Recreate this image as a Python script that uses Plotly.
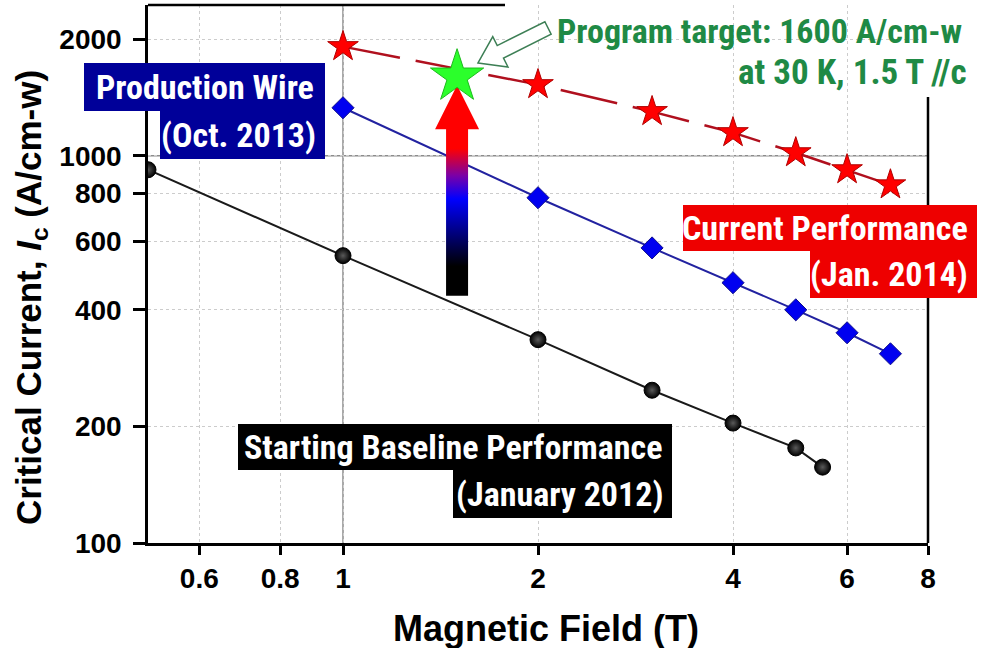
import math
import plotly.graph_objects as go

# ---------------- data ----------------
field_2012 = [0.5, 1, 2, 3, 4, 5, 5.5]
ic_2012 = [920, 552, 335, 248, 204, 176, 157]

field_2013 = [1, 2, 3, 4, 5, 6, 7]
ic_2013 = [1330, 779, 578, 470, 400, 349, 308]

field_2014 = [1, 2, 3, 4, 5, 6, 7]
ic_2014 = [1913, 1526, 1300, 1147, 1018, 920, 841]

target_field = [1.5]
target_ic = [1600]

# gradient arrow (progress arrow) extent in Ic units
arrow_ic = [435, 1170, 1520]  # bottom, head base, tip

x_tick_vals = [0.6, 0.8, 1, 2, 4, 6, 8]
x_tick_text = ["0.6", "0.8", "1", "2", "4", "6", "8"]
y_tick_vals = [100, 200, 400, 600, 800, 1000, 2000]
y_tick_text = ["100", "200", "400", "600", "800", "1000", "2000"]

X_RANGE = [0.5, 8]
Y_RANGE = [100, 2450]

# ---------------- layout geometry ----------------
W, H = 984, 648
ML, MR, MT, MB = 148, 56, 5, 105
PW = W - ML - MR
PH = H - MT - MB
PX_PER_DEC_X = PW / (math.log10(X_RANGE[1]) - math.log10(X_RANGE[0]))


def ppx(x):
    return (x - ML) / PW


def ppy(y):
    return (H - MB - y) / PH


NARROW = "Liberation Sans Narrow, Arial Narrow, Roboto Condensed, sans-serif"
SANS = "Liberation Sans, Arial, sans-serif"

fig = go.Figure()

fig.add_trace(go.Scatter(
    x=field_2012, y=ic_2012, mode="lines+markers",
    line=dict(color="#1a1a1a", width=2),
    marker=dict(symbol="circle", size=16, color="#000000",
                gradient=dict(type="radial", color="#5a5a5a"),
                line=dict(color="#000000", width=1)),
    showlegend=False, hoverinfo="x+y"))

fig.add_trace(go.Scatter(
    x=field_2013, y=ic_2013, mode="lines+markers",
    line=dict(color="#2222a0", width=2),
    marker=dict(symbol="diamond", size=17, color="#0000f0",
                line=dict(color="#10108a", width=1)),
    showlegend=False, hoverinfo="x+y"))

fig.add_trace(go.Scatter(
    x=field_2014, y=ic_2014, mode="lines+markers",
    line=dict(color="#b0101e", width=2.5, dash="58px,16px"),
    marker=dict(symbol="star", size=23, color="#ff0000",
                line=dict(color="#b00000", width=1)),
    showlegend=False, hoverinfo="x+y"))

# gradient arrow drawn from data anchor
xc = target_field[0]
fb = 10 ** (11 / PX_PER_DEC_X)
fh = 10 ** (22 / PX_PER_DEC_X)
yb, yh, yt = arrow_ic
fig.add_trace(go.Scatter(
    x=[xc / fb, xc / fb, xc / fh, xc, xc * fh, xc * fb, xc * fb, xc / fb],
    y=[yb, yh, yh, yt, yh, yh, yb, yb],
    mode="lines", line=dict(width=0, color="rgba(0,0,0,0)"),
    fill="toself",
    fillgradient=dict(type="vertical",
                      colorscale=[[0, "#000000"], [0.14, "#000000"],
                                  [0.46, "#0000ff"], [0.57, "#7a00a8"],
                                  [0.70, "#ff0000"], [1, "#ff0000"]]),
    showlegend=False, hoverinfo="skip"))

fig.add_trace(go.Scatter(
    x=target_field, y=target_ic, mode="markers",
    marker=dict(symbol="star", size=40, color="#2bff2b",
                line=dict(color="#1dbb1d", width=1)),
    showlegend=False, hoverinfo="x+y"))

# ---------------- shapes ----------------
shapes = []
# emphasised grid lines at 1 T and 1000 A/cm-w
shapes.append(dict(type="line", xref="x", yref="paper", x0=1, x1=1, y0=0, y1=1,
                   line=dict(color="#8c8c8c", width=1.5), layer="between"))
shapes.append(dict(type="line", xref="paper", yref="y", x0=0, x1=1, y0=1000, y1=1000,
                   line=dict(color="#8c8c8c", width=1.5), layer="between"))
# partial frame (top and right)
shapes.append(dict(type="line", xref="paper", yref="paper", x0=0, x1=ppx(505), y0=1, y1=1,
                   line=dict(color="#000000", width=2.5), layer="above"))
shapes.append(dict(type="line", xref="paper", yref="paper", x0=1, x1=1, y0=0, y1=ppy(97),
                   line=dict(color="#000000", width=2.5), layer="above"))

# label boxes (pixel extents)
boxes = [
    (84, 325, 63, 111, "#000099"),
    (160, 325, 111, 159, "#000099"),
    (683, 977, 205, 251, "#ee0000"),
    (810, 977, 251, 298, "#ee0000"),
    (238, 672, 424, 470, "#000000"),
    (453, 672, 470, 518, "#000000"),
]
for x0, x1, y0, y1, c in boxes:
    shapes.append(dict(type="rect", xref="paper", yref="paper",
                       x0=ppx(x0), x1=ppx(x1), y0=ppy(y1), y1=ppy(y0),
                       fillcolor=c, line=dict(width=0), layer="above"))

# hollow arrow pointing to target
tip = (478, 63)
tail = (548, 28)
dx, dy = tail[0] - tip[0], tail[1] - tip[1]
L = math.hypot(dx, dy)
ux, uy = dx / L, dy / L
nx, ny = -uy, ux
hl, hw, sw = 25, 17, 7
pts = [
    tip,
    (tip[0] + hl * ux + hw * nx, tip[1] + hl * uy + hw * ny),
    (tip[0] + hl * ux + sw * nx, tip[1] + hl * uy + sw * ny),
    (tip[0] + L * ux + sw * nx, tip[1] + L * uy + sw * ny),
    (tip[0] + L * ux - sw * nx, tip[1] + L * uy - sw * ny),
    (tip[0] + hl * ux - sw * nx, tip[1] + hl * uy - sw * ny),
    (tip[0] + hl * ux - hw * nx, tip[1] + hl * uy - hw * ny),
]
path = "M " + " L ".join(f"{ppx(px):.5f},{ppy(py):.5f}" for px, py in pts) + " Z"
shapes.append(dict(type="path", xref="paper", yref="paper", path=path,
                   fillcolor="#ffffff", line=dict(color="#3d7f55", width=1.5),
                   layer="above"))

# ---------------- annotations ----------------
ann = []


def label(text, xr, yc, size=34, color="#ffffff", family=NARROW, angle=0, anchor="right"):
    ann.append(dict(text=text, xref="paper", yref="paper", x=ppx(xr), y=ppy(yc),
                    xanchor=anchor, yanchor="middle", showarrow=False, textangle=angle,
                    font=dict(family=family, size=size, color=color, weight="bold")))


label("Production Wire", 316, 87)
label("(Oct. 2013)", 318, 135)
label("Current Performance", 970, 228)
label("(Jan. 2014)", 970, 274)
label("Starting Baseline Performance", 665, 447)
label("(January 2012)", 665, 494)
label("Program target: 1600 A/cm-w", 964, 31, size=34, color="#1f8a45")
label("at 30 K, 1.5 T //c", 968, 72, size=35, color="#1f8a45")
# axis titles
label("Critical Current, <i>I</i><sub>c</sub> (A/cm-w)", 31, 298, size=35,
      color="#000000", family=SANS, angle=-90, anchor="center")
label("Magnetic Field (T)", 546, 628, size=36,
      color="#000000", family=SANS, anchor="center")

fig.update_layout(
    width=W, height=H,
    margin=dict(l=ML, r=MR, t=MT, b=MB, autoexpand=False),
    paper_bgcolor="#ffffff", plot_bgcolor="#ffffff",
    showlegend=False,
    shapes=shapes, annotations=ann,
    xaxis=dict(
        type="log", range=[math.log10(X_RANGE[0]), math.log10(X_RANGE[1])],
        tickvals=x_tick_vals, ticktext=x_tick_text,
        ticks="outside", ticklen=9, tickwidth=2.5, tickcolor="#000000",
        showline=True, linewidth=2.5, linecolor="#000000", mirror=False,
        showgrid=True, gridcolor="#cccccc", gridwidth=1, griddash="dot",
        zeroline=False, ticklabelstandoff=0,
        tickfont=dict(family=SANS, size=28, color="#000000", weight="bold"),
        automargin=False,
    ),
    yaxis=dict(
        type="log", range=[math.log10(Y_RANGE[0]), math.log10(Y_RANGE[1])],
        tickvals=y_tick_vals, ticktext=y_tick_text,
        ticks="outside", ticklen=12, tickwidth=2.5, tickcolor="#000000",
        showline=True, linewidth=2.5, linecolor="#000000", mirror=False,
        showgrid=True, gridcolor="#cccccc", gridwidth=1, griddash="dot",
        zeroline=False, ticklabelstandoff=6,
        tickfont=dict(family=SANS, size=28, color="#000000", weight="bold"),
        automargin=False,
    ),
)

fig.write_html("out.html")
